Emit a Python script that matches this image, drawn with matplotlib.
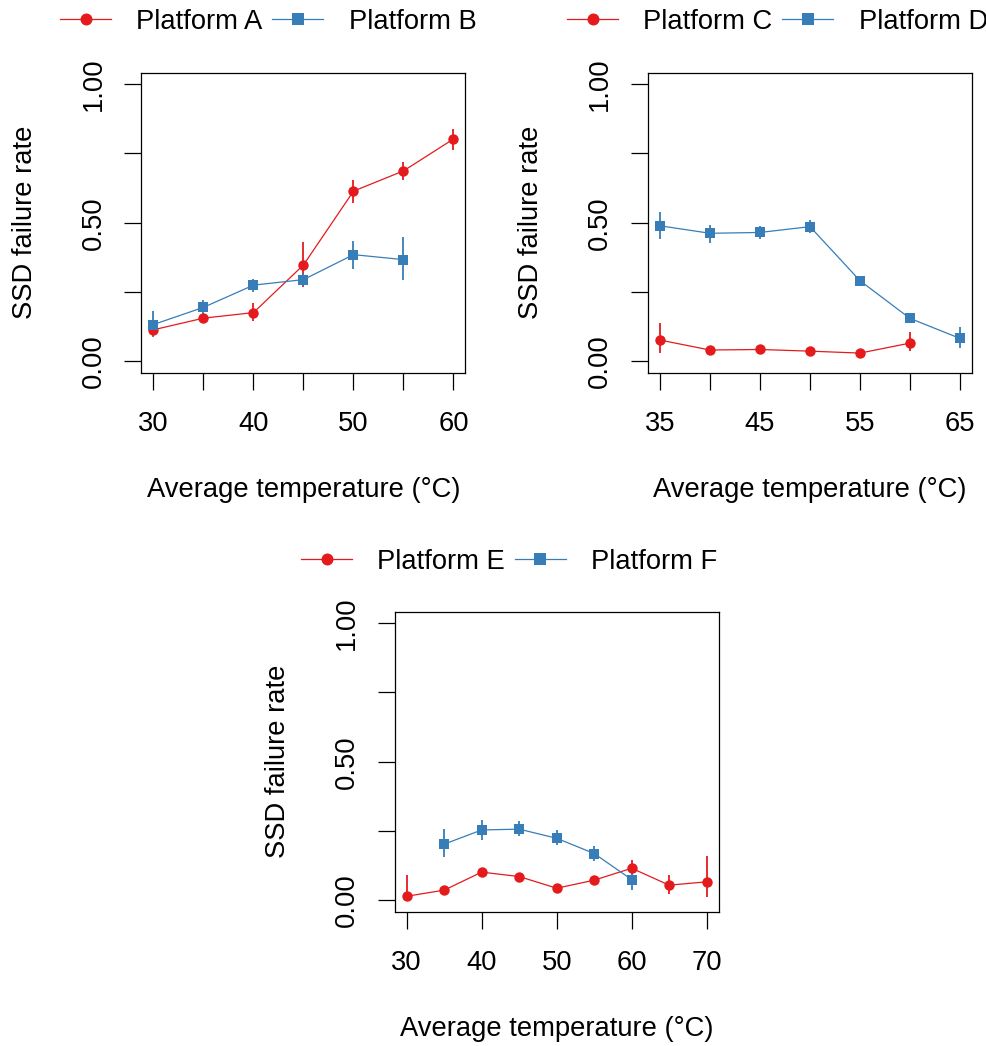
import numpy as np
import matplotlib
matplotlib.use("Agg")
import matplotlib.pyplot as plt

plt.rcParams['font.family'] = ['Liberation Sans', 'DejaVu Sans']
FS = 19.7
plt.rcParams['font.size'] = FS

RED = '#E41A1C'
BLUE = '#377EB8'

# ======================================
# DATA (failure rate and interval ends)
# ======================================
temp_a = [30, 35, 40, 45, 50, 55, 60]
rate_a = [0.114, 0.156, 0.176, 0.348, 0.614, 0.687, 0.802]
lo_a = [0.096, 0.146, 0.144, 0.269, 0.573, 0.655, 0.763]
hi_a = [0.130, 0.166, 0.209, 0.432, 0.655, 0.720, 0.838]

temp_b = [30, 35, 40, 45, 50, 55]
rate_b = [0.133, 0.195, 0.275, 0.295, 0.385, 0.367]
lo_b = [0.087, 0.171, 0.251, 0.272, 0.333, 0.294]
hi_b = [0.183, 0.221, 0.297, 0.318, 0.435, 0.450]

temp_c = [35, 40, 45, 50, 55, 60]
rate_c = [0.077, 0.041, 0.043, 0.037, 0.030, 0.066]
lo_c = [0.032, 0.035, 0.037, 0.031, 0.024, 0.036]
hi_c = [0.140, 0.047, 0.049, 0.043, 0.036, 0.107]

temp_d = [35, 40, 45, 50, 55, 60, 65]
rate_d = [0.489, 0.462, 0.465, 0.486, 0.291, 0.155, 0.083]
lo_d = [0.441, 0.428, 0.440, 0.462, 0.281, 0.145, 0.050]
hi_d = [0.537, 0.493, 0.490, 0.510, 0.301, 0.165, 0.125]

temp_e = [30, 35, 40, 45, 50, 55, 60, 65, 70]
rate_e = [0.015, 0.037, 0.102, 0.086, 0.044, 0.073, 0.116, 0.055, 0.067]
lo_e = [0.000, 0.031, 0.094, 0.079, 0.038, 0.066, 0.088, 0.022, 0.013]
hi_e = [0.091, 0.043, 0.110, 0.093, 0.050, 0.080, 0.145, 0.091, 0.160]

temp_f = [35, 40, 45, 50, 55, 60]
rate_f = [0.203, 0.254, 0.257, 0.224, 0.169, 0.075]
lo_f = [0.155, 0.218, 0.233, 0.200, 0.142, 0.039]
hi_f = [0.257, 0.290, 0.288, 0.253, 0.197, 0.121]

y_ticks = [0, 0.25, 0.5, 0.75, 1.0]
y_labels = ['0.00', '', '0.50', '', '1.00']

W, H = 987, 1046
fig = plt.figure(figsize=(W / 100, H / 100), dpi=100)


def px_axes(left, top, right, bottom):
    return fig.add_axes([left / W, 1 - bottom / H, (right - left) / W, (bottom - top) / H])


def draw_series(ax, x, y, lo, hi, color, marker, ms, label):
    ax.vlines(x, lo, hi, color=color, linewidth=1.3, zorder=2)
    ln, = ax.plot(x, y, color=color, linewidth=0.9, marker=marker,
                  markersize=ms, markeredgewidth=0, label=label, zorder=3)
    return ln


def style_axes(ax, xlim, xticks, xlabels):
    ax.set_xlim(*xlim)
    ax.set_ylim(-0.04, 1.04)
    ax.set_xticks(xticks)
    ax.set_xticklabels(xlabels)
    ax.set_yticks(y_ticks)
    ax.set_yticklabels(y_labels, rotation=90, va='center')
    ax.tick_params(length=12, width=0.9, pad=16, labelsize=FS)
    ax.tick_params(axis='y', pad=13)
    for s in ax.spines.values():
        s.set_linewidth(0.9)
    ax.set_xlabel('Average temperature (°C)', fontsize=FS, va='center')
    ax.xaxis.set_label_coords(0.5, -0.393)
    ax.set_ylabel('SSD failure rate', fontsize=FS, va='center')
    ax.yaxis.set_label_coords(-0.361, 0.5)


def add_legend(ax, handles, x_px, y_px):
    ax.legend(handles=handles, loc='center left',
              bbox_to_anchor=(x_px / W, 1 - y_px / H),
              bbox_transform=fig.transFigure, ncol=2, frameon=False,
              borderpad=0, borderaxespad=0, handlelength=1.87,
              handletextpad=0.92, columnspacing=0.35, fontsize=FS,
              markerscale=1.15)


# Panel 1
ax1 = px_axes(141.5, 73, 465.5, 372.5)
h1 = draw_series(ax1, temp_a, rate_a, lo_a, hi_a, RED, 'o', 7.5, 'Platform A')
h2 = draw_series(ax1, temp_b, rate_b, lo_b, hi_b, BLUE, 's', 7.3, 'Platform B')
style_axes(ax1, (28.8, 61.2), [30, 35, 40, 45, 50, 55, 60],
           ['30', '', '40', '', '50', '', '60'])
add_legend(ax1, [h1, h2], 60, 22)

# Panel 2
ax2 = px_axes(648, 73, 972, 372.5)
h3 = draw_series(ax2, temp_c, rate_c, lo_c, hi_c, RED, 'o', 7.5, 'Platform C')
h4 = draw_series(ax2, temp_d, rate_d, lo_d, hi_d, BLUE, 's', 7.3, 'Platform D')
style_axes(ax2, (33.8, 66.2), [35, 40, 45, 50, 55, 60, 65],
           ['35', '', '45', '', '55', '', '65'])
add_legend(ax2, [h3, h4], 567, 22)

# Panel 3
ax3 = px_axes(394.7, 612, 718.7, 911.5)
h5 = draw_series(ax3, temp_e, rate_e, lo_e, hi_e, RED, 'o', 7.5, 'Platform E')
h6 = draw_series(ax3, temp_f, rate_f, lo_f, hi_f, BLUE, 's', 7.3, 'Platform F')
style_axes(ax3, (28.4, 71.6), [30, 40, 50, 60, 70],
           ['30', '40', '50', '60', '70'])
add_legend(ax3, [h5, h6], 301, 562)

fig.savefig('out.png', dpi=100)
